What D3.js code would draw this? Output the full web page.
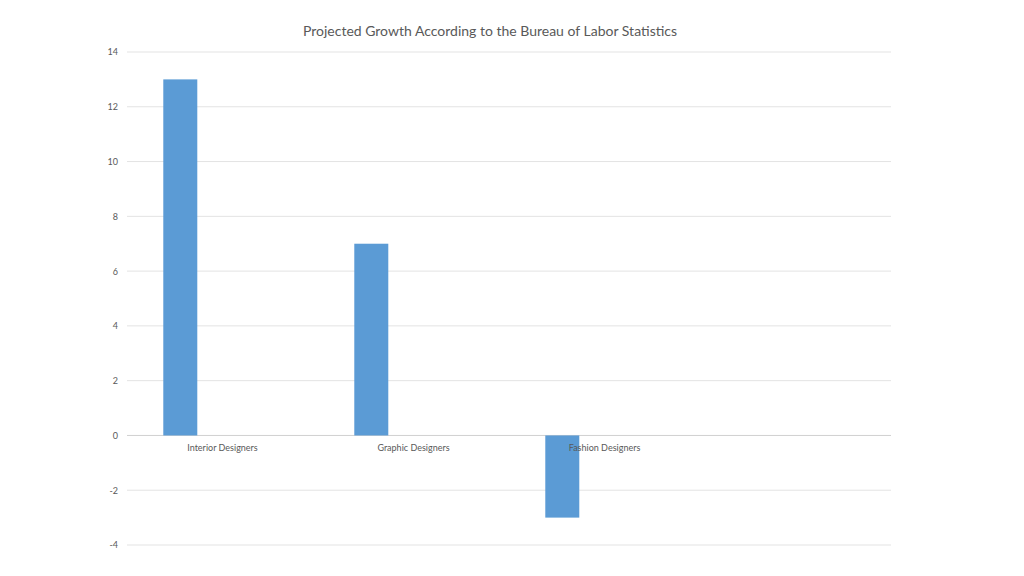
<!DOCTYPE html>
<html>
<head>
<meta charset="utf-8">
<script src="https://cdn.jsdelivr.net/npm/d3@7"></script>
<style>
  body { margin: 0; background: #fff; }
  text { font-family: Lato, "Open Sans", sans-serif; }
</style>
</head>
<body>
<div id="graph"></div>
<script>
// chart data
const title = "Projected Growth According to the Bureau of Labor Statistics";
const categories = ["Interior Designers", "Graphic Designers", "Fashion Designers", ""];
const growth = [13, 7, -3, null];
const yTicks = [-4, -2, 0, 2, 4, 6, 8, 10, 12, 14];

let margin = { top: 52, right: 133, bottom: 31, left: 127 },
    width = 1024 - margin.left - margin.right,
    height = 576 - margin.top - margin.bottom;

let svg = d3.select("#graph")
    .append("svg")
    .attr("width", 1024)
    .attr("height", 576);

let g = svg.append("g")
    .attr("transform", "translate(" + margin.left + "," + margin.top + ")");

let x = d3.scaleBand()
    .domain(categories)
    .range([0, width]);

let y = d3.scaleLinear()
    .domain([-4, 14])
    .range([height, 0]);

// gridlines
g.append("g")
    .selectAll("line")
    .data(yTicks)
    .enter()
    .append("line")
    .attr("x1", 0)
    .attr("x2", width)
    .attr("y1", d => y(d))
    .attr("y2", d => y(d))
    .attr("stroke", d => d === 0 ? "#d0d0d0" : "#e3e3e3")
    .attr("stroke-width", 1);

// y axis labels (plain hyphen for negatives, like the original)
let yAxis = g.append("g")
    .attr("transform", "translate(-9,0)")
    .call(d3.axisLeft(y).tickValues(yTicks).tickSize(0).tickFormat(d => String(d)));
yAxis.select(".domain").remove();
yAxis.selectAll("text")
    .attr("x", 0)
    .attr("fill", "#595959")
    .style("font-size", "9px");

// bars
let bars = categories.map((c, i) => ({ cat: c, v: growth[i] })).filter(d => d.v !== null);
g.append("g")
    .selectAll("rect")
    .data(bars)
    .enter()
    .append("rect")
    .attr("x", d => x(d.cat) + x.step() * 0.19)
    .attr("width", x.step() * 0.178)
    .attr("y", d => y(Math.max(0, d.v)))
    .attr("height", d => Math.abs(y(d.v) - y(0)))
    .attr("fill", "#5b9bd5");

// category labels
g.append("g")
    .selectAll("text")
    .data(categories)
    .enter()
    .append("text")
    .attr("x", d => x(d) + x.bandwidth() / 2)
    .attr("y", y(0) + 16)
    .attr("text-anchor", "middle")
    .attr("fill", "#595959")
    .style("font-size", "9px")
    .text(d => d);

// title
svg.append("text")
    .attr("x", 490)
    .attr("y", 36)
    .attr("text-anchor", "middle")
    .attr("fill", "#595959")
    .style("font-size", "14px")
    .text(title);
</script>
</body>
</html>
